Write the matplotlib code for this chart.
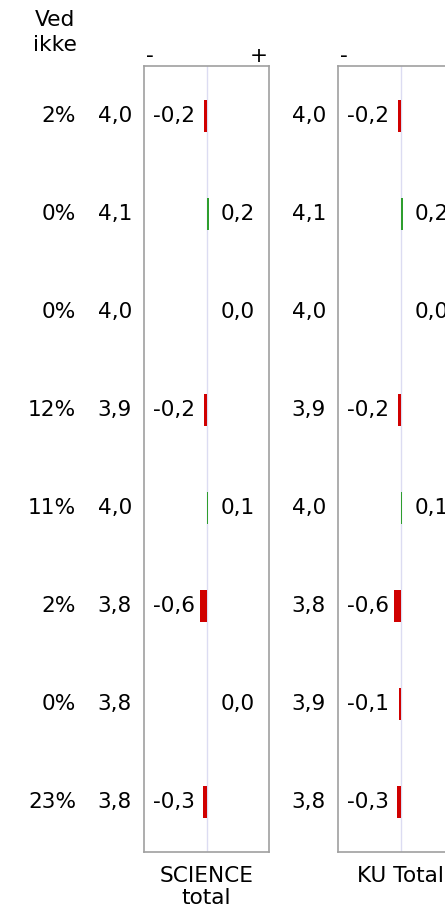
import matplotlib.pyplot as plt
import matplotlib.transforms as mtransforms

# === Data ===
ved_ikke = ['2%', '0%', '0%', '12%', '11%', '2%', '0%', '23%']
science_mean = [4.0, 4.1, 4.0, 3.9, 4.0, 3.8, 3.8, 3.8]
science_diff = [-0.2, 0.2, 0.0, -0.2, 0.1, -0.6, 0.0, -0.3]
ku_mean = [4.0, 4.1, 4.0, 3.9, 4.0, 3.8, 3.9, 3.8]
ku_diff = [-0.2, 0.2, 0.0, -0.2, 0.1, -0.6, -0.1, -0.3]
panel_titles = ['SCIENCE\ntotal', 'KU Total']

W, H = 445, 910
FS = 15.6
RED = '#d00000'
GREEN = '#2e9e2e'
FRAME = '#a0a0a0'
MID = '#dcdcf2'

fig = plt.figure(figsize=(W / 100, H / 100), dpi=100)


def fmt(v):
    return f'{v:.1f}'.replace('.', ',')


def px_axes(left, top, width, height):
    return fig.add_axes([left / W, (H - top - height) / H, width / W, height / H])


def shifted(base, dx, dy=0):
    return mtransforms.offset_copy(base, fig=fig, x=dx, y=dy, units='dots')


def draw_panel(ax, means, diffs, title):
    n = len(diffs)
    rows = list(range(n))
    colors = [RED if d < 0 else GREEN for d in diffs]
    ax.axvline(0, color=MID, lw=1.0, zorder=1)
    ax.barh(rows, diffs, height=0.33, color=colors, linewidth=0, zorder=3,
            antialiased=False)
    ax.set_xlim(-6.2, 6.2)
    ax.set_ylim(n - 0.49, -0.51)
    ax.set_xticks([])
    ax.set_yticks([])
    for sp in ax.spines.values():
        sp.set_color(FRAME)
        sp.set_linewidth(1.2)

    tr = mtransforms.blended_transform_factory(shifted(ax.transAxes, -12), ax.transData)
    for i, (m, d) in enumerate(zip(means, diffs)):
        # mean value left of the panel
        ax.text(0, i, fmt(m), transform=tr, ha='right', va='center',
                fontsize=FS, clip_on=False)
        if d < 0:
            ax.text(0, i, fmt(d), transform=shifted(ax.transData, -12),
                    ha='right', va='center', fontsize=FS)
        else:
            ax.text(0, i, fmt(d), transform=shifted(ax.transData, 14),
                    ha='left', va='center', fontsize=FS)

    ax.text(0, 1, '-', transform=shifted(ax.transAxes, 2, 4), ha='left',
            va='baseline', fontsize=FS)
    ax.text(1, 1, '+', transform=shifted(ax.transAxes, -1, 4), ha='right',
            va='baseline', fontsize=FS)
    ax.text(0.5, 0, title, transform=shifted(ax.transAxes, 0, -14), ha='center',
            va='top', fontsize=FS, linespacing=1.15)


ax1 = px_axes(144, 66, 125, 786)
ax2 = px_axes(338, 66, 125, 786)
draw_panel(ax1, science_mean, science_diff, panel_titles[0])
draw_panel(ax2, ku_mean, ku_diff, panel_titles[1])

# "Ved ikke" column
tr = mtransforms.blended_transform_factory(fig.transFigure, ax1.transData)
for i, p in enumerate(ved_ikke):
    ax1.text(76 / W, i, p, transform=tr, ha='right', va='center',
             fontsize=FS, clip_on=False)
fig.text(55 / W, 1 - 10 / H, 'Ved\nikke', ha='center', va='top',
         fontsize=FS, linespacing=1.3)

fig.savefig('out.png', dpi=100)
